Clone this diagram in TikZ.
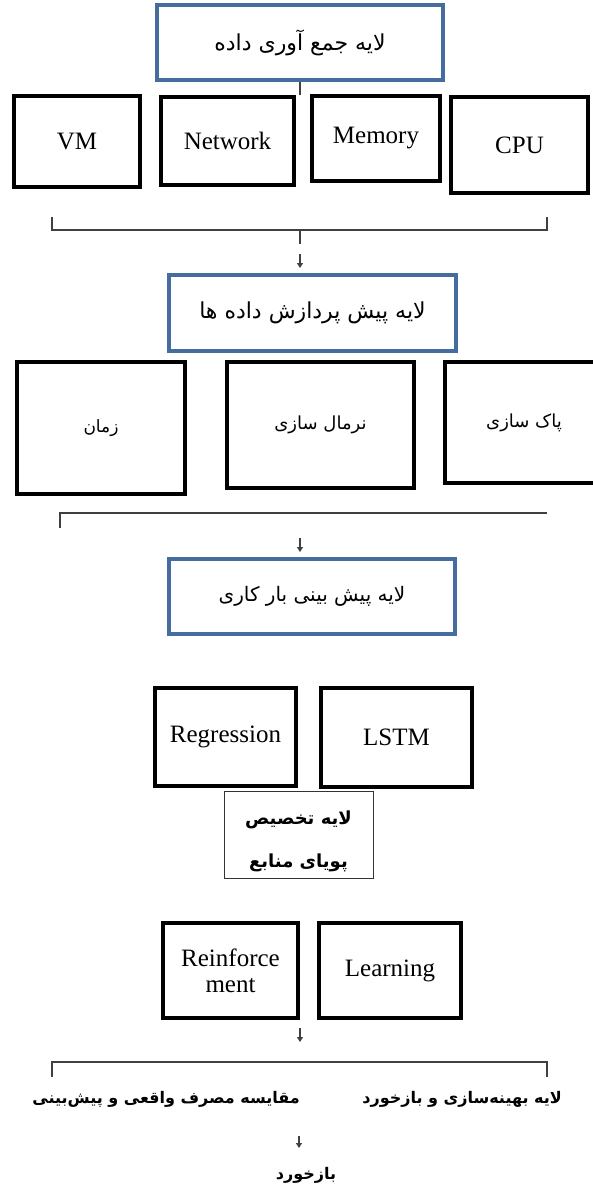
\documentclass[tikz,border=0pt]{standalone}
\usepackage{fontspec}
\usepackage{tikz}
\usetikzlibrary{arrows.meta, positioning, calc}
\setmainfont{Liberation Serif}
\newfontfamily\persianfont[Script=Arabic]{DejaVu Sans}
\TeXXeTstate=1
\definecolor{layerblue}{RGB}{68,108,158}
\definecolor{linegray}{RGB}{64,64,64}
\newcommand{\rtl}[1]{{\persianfont\beginR #1\endR}}

\begin{document}
\begin{tikzpicture}[x=1pt, y=-1pt,
  layerbox/.style={draw=layerblue, line width=3.2pt, fill=white, inner sep=0pt, font=\fontsize{22}{26}\selectfont},
  itembox/.style={draw=black, line width=3.4pt, fill=white, inner sep=0pt, align=center, font=\fontsize{25}{27}\selectfont},
  thinbox/.style={draw=black!80, line width=0.9pt, fill=white, inner sep=0pt, align=center, font=\fontsize{18}{43}\selectfont\bfseries},
  bracket/.style={draw=linegray, line width=1.3pt},
  arr/.style={draw=linegray, line width=1.6pt, -{Triangle[length=5pt, width=6pt]}},
  plain/.style={inner sep=0pt, font=\fontsize{16}{20}\selectfont\bfseries}]
\clip (0,0) rectangle (593,1189);
\fill[white] (0,0) rectangle (593,1189);

% Data collection layer
\node[layerbox, minimum width=286pt, minimum height=75pt] (collect) at (300,42.5) {\rtl{لایه جمع آوری داده}};
\node[itembox, minimum width=126pt, minimum height=91pt] (vm) at (77,141.5) {VM};
\node[itembox, minimum width=133pt, minimum height=88pt] (net) at (227.5,141) {Network};
\node[itembox, minimum width=128pt, minimum height=85pt] (mem) at (376,138.5) {Memory};
\node[itembox, minimum width=137pt, minimum height=96pt] (cpu) at (519.5,145) {CPU};
\draw[bracket] (collect.south) -- (collect.south |- net.north);

% Bracket 1
\coordinate (b1l) at (52,217);
\coordinate (b1r) at (547,217);
\coordinate (b1m) at (300,230);
\draw[bracket] (b1l) |- (b1m) -| (b1r);
\draw[bracket] (b1m) -- ++(0,14) coordinate (b1s);
\coordinate (a1s) at (300,254);
\coordinate (a1e) at (300,268);
\draw[arr] (a1s) -- (a1e);

% Preprocessing layer
\node[layerbox, minimum width=287pt, minimum height=76pt] (prep) at (312.5,313) {\rtl{لایه پیش پردازش داده ها}};
\node[itembox, minimum width=168pt, minimum height=132pt, font=\fontsize{17}{20}\selectfont] (time) at (101,428) {\rtl{زمان}};
\node[itembox, minimum width=187pt, minimum height=126pt, font=\fontsize{18}{20}\selectfont] (norm) at (320.5,425) {\rtl{نرمال سازی}};
\node[itembox, minimum width=158pt, minimum height=121pt, font=\fontsize{18}{20}\selectfont] (clean) at (524,422.5) {\rtl{پاک سازی}};

% Bracket 2
\coordinate (b2l) at (60,528);
\coordinate (b2r) at (547,513);
\draw[bracket] (b2l) |- (b2r);
\coordinate (a2s) at (300,538);
\coordinate (a2e) at (300,552);
\draw[arr] (a2s) -- (a2e);

% Workload prediction layer
\node[layerbox, minimum width=286pt, minimum height=75pt, font=\fontsize{20}{24}\selectfont] (pred) at (312,596.5) {\rtl{لایه پیش بینی بار کاری}};
\node[itembox, minimum width=141pt, minimum height=98pt] (reg) at (225.5,737) {Regression};
\node[itembox, minimum width=151pt, minimum height=99pt] (lstm) at (396.5,737.5) {LSTM};

% Resource allocation layer
\node[thinbox, minimum width=149pt, minimum height=87pt] (alloc) at (298.5,834.5) {\rule{0pt}{28pt}\rtl{لایه تخصیص}\\\rtl{پویای منابع}};
\node[itembox, minimum width=135pt, minimum height=95pt] (rl) at (230.5,970.5) {Reinforce\\[-1pt]ment};
\node[itembox, minimum width=142pt, minimum height=95pt] (learn) at (390,970.5) {Learning};
\coordinate (a3s) at (300,1028);
\coordinate (a3e) at (300,1042);
\draw[arr] (a3s) -- (a3e);

% Bracket 3
\coordinate (b3l) at (52,1077);
\coordinate (b3r) at (547,1077);
\coordinate (b3m) at (300,1062);
\draw[bracket] (b3l) |- (b3m) -| (b3r);

% Optimization and feedback layer
\node[plain, anchor=east] (opt) at (562,1099) {\rtl{لایه بهینه‌سازی و بازخورد}};
\node[plain, anchor=east] (cmp) at (300,1099) {\rtl{مقایسه مصرف واقعی و پیش‌بینی}};
\coordinate (a4s) at (299,1136);
\coordinate (a4e) at (299,1148);
\draw[arr, line width=1.2pt] (a4s) -- (a4e);
\node[plain] (fb) at (306,1175) {\rtl{بازخورد}};
\end{tikzpicture}
\end{document}
